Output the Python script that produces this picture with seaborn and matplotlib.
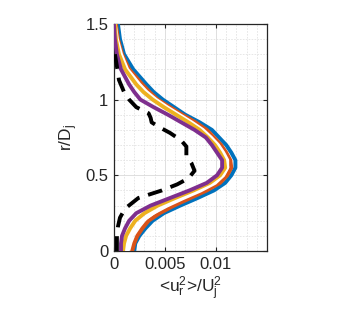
import numpy as np
import pandas as pd
import matplotlib
matplotlib.use('Agg')
import matplotlib.pyplot as plt
from matplotlib.ticker import MultipleLocator, FixedLocator
import seaborn as sns

# radial positions r/Dj
r = [0, 0.05, 0.1, 0.15, 0.2, 0.25, 0.3, 0.35, 0.4, 0.45, 0.5, 0.55, 0.6,
     0.65, 0.7, 0.75, 0.8, 0.85, 0.9, 0.95, 1.0, 1.05, 1.1, 1.2, 1.3, 1.4, 1.5]

blue = [0.0020, 0.0021, 0.0025, 0.0031, 0.0038, 0.0049, 0.0065, 0.0082, 0.0098, 0.0109,
        0.0115, 0.0119, 0.0119, 0.0115, 0.0110, 0.0103, 0.0096, 0.0084, 0.0070, 0.0059,
        0.0048, 0.0039, 0.0032, 0.0019, 0.0010, 0.0006, 0.0004]
orange = [0.0018, 0.0020, 0.0023, 0.0028, 0.0034, 0.0045, 0.0059, 0.0075, 0.0091, 0.0104,
          0.0111, 0.0115, 0.0114, 0.0110, 0.0105, 0.0098, 0.0091, 0.0080, 0.0067, 0.0055,
          0.0043, 0.0035, 0.0028, 0.0015, 0.0008, 0.0004, 0.0002]
white = [0.0013, 0.0014, 0.0017, 0.0022, 0.0028, 0.0038, 0.0052, 0.0068, 0.0085, 0.0099,
         0.0107, 0.0111, 0.0111, 0.0107, 0.0102, 0.0095, 0.0087, 0.0076, 0.0064, 0.0052,
         0.0041, 0.0032, 0.0025, 0.0013, 0.0007, 0.0003, 0.0001]
yellow = [0.0009, 0.0010, 0.0012, 0.0016, 0.0021, 0.0030, 0.0043, 0.0060, 0.0078, 0.0094,
          0.0104, 0.0109, 0.0108, 0.0104, 0.0099, 0.0092, 0.0084, 0.0073, 0.0061, 0.0049,
          0.0038, 0.0029, 0.0022, 0.0011, 0.0005, 0.0002, 0.0001]
purple = [0.0007, 0.0007, 0.0008, 0.0011, 0.0015, 0.0022, 0.0036, 0.0055, 0.0074, 0.0091,
          0.0101, 0.0106, 0.0106, 0.0101, 0.0096, 0.0090, 0.0079, 0.0066, 0.0053, 0.0039,
          0.0026, 0.0020, 0.0015, 0.0007, 0.0003, 0.0001, 0.0]

# dashed reference profile
r_ref = [0, 0.05, 0.1, 0.16, 0.22, 0.28, 0.35, 0.40, 0.44, 0.48, 0.53, 0.58, 0.63,
         0.69, 0.73, 0.78, 0.82, 0.85, 0.88, 0.91, 0.95, 1.0, 1.05, 1.13, 1.22, 1.3]
ref = [0.0003, 0.0003, 0.0003, 0.0004, 0.0006, 0.0011, 0.0024, 0.0047, 0.0062, 0.0073,
       0.0079, 0.0076, 0.0071, 0.0071, 0.0066, 0.0055, 0.0044, 0.0037, 0.0036, 0.0034,
       0.0022, 0.0015, 0.0010, 0.0005, 0.0003, 0.0001]

plt.rcParams['font.family'] = ['Liberation Sans', 'DejaVu Sans']
plt.rcParams['mathtext.fontset'] = 'custom'
plt.rcParams['mathtext.rm'] = 'Liberation Sans'
plt.rcParams['mathtext.it'] = 'Liberation Sans'

fig = plt.figure(figsize=(3.58, 3.11), dpi=100)
ax = fig.add_axes([0.318, 0.193, 0.428, 0.73])

series = [(blue, '#0072BD'), (orange, '#D95319'), (white, '#FFFFFF'),
          (yellow, '#EDB120'), (purple, '#7E2F8E')]
for vals, col in series:
    sns.lineplot(x=vals, y=r, orient='y', sort=False, estimator=None,
                 color=col, lw=2.8, ax=ax, zorder=3)
sns.lineplot(x=ref, y=r_ref, orient='y', sort=False, estimator=None,
             color='black', lw=2.8, ax=ax, zorder=4, dashes=False)
ax.lines[-1].set_dashes([3.8, 2.3])

ax.set_xlim(0, 0.015)
ax.set_ylim(0, 1.5)
ax.xaxis.set_major_locator(FixedLocator([0, 0.005, 0.01]))
ax.set_xticklabels(['0', '0.005', '0.01'])
ax.yaxis.set_major_locator(FixedLocator([0, 0.5, 1, 1.5]))
ax.set_yticklabels(['0', '0.5', '1', '1.5'])
ax.xaxis.set_minor_locator(MultipleLocator(0.001))
ax.yaxis.set_minor_locator(MultipleLocator(0.1))
ax.grid(which='major', color='#d9d9d9', lw=0.6, ls='-', zorder=0)
ax.grid(which='minor', color='#e3e3e3', lw=0.6, ls=(0, (2, 1.5)), zorder=0)
ax.set_axisbelow(True)
ax.tick_params(which='major', direction='in', length=3, top=True, right=True,
               labelsize=12, colors='#262626', width=0.8, pad=4)
ax.tick_params(which='minor', length=0)
for s in ax.spines.values():
    s.set_color('#262626')
    s.set_linewidth(0.9)

ax.set_xlabel(r'<u$_r^2$>/U$_j^2$', fontsize=12.5, color='#262626', labelpad=2)
ax.set_ylabel(r'r/D$_j$', fontsize=12.5, color='#262626', labelpad=4)

fig.savefig('out.png', dpi=100)
